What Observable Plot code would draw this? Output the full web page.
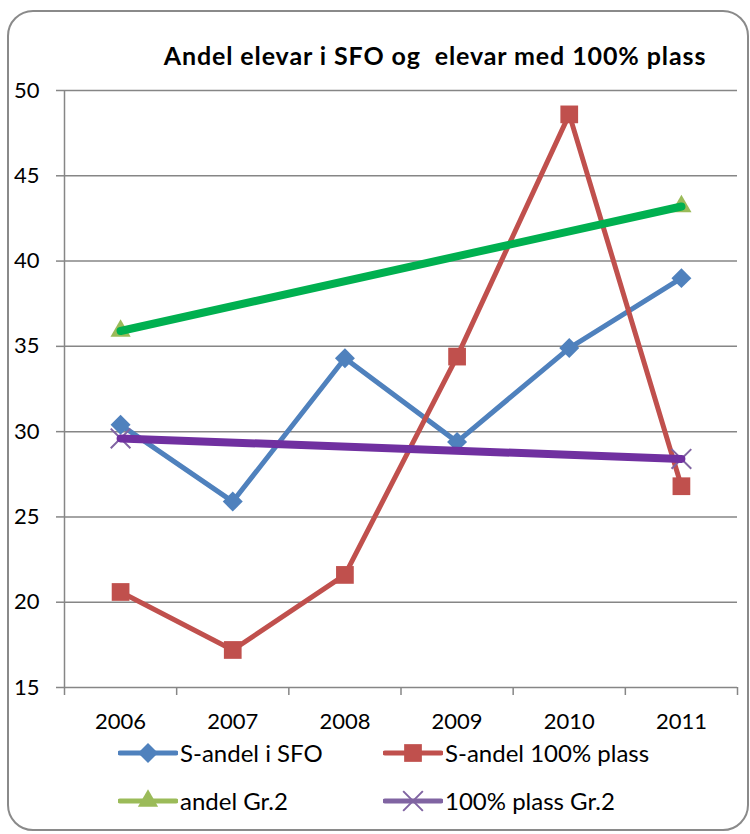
<!DOCTYPE html>
<html>
<head>
<meta charset="utf-8">
<script src="https://cdn.jsdelivr.net/npm/d3@7"></script>
<script src="https://cdn.jsdelivr.net/npm/@observablehq/plot@0.6"></script>
<style>
  html, body { margin: 0; padding: 0; background: #fff; }
  body { font-family: Lato, "Open Sans", sans-serif; }
  #wrap { position: relative; width: 750px; height: 834px; overflow: hidden; }
  #frame { position: absolute; left: 7px; top: 10px; width: 742px; height: 821px;
           border: 2px solid #8a8a8a; border-radius: 26px; box-sizing: border-box; }
  #title { position: absolute; left: 120px; width: 630px; top: 39px; text-align: center;
           font-weight: 700; font-size: 25px; letter-spacing: 0.9px; line-height: 32px; color: #000; white-space: pre; }
  #chart { position: absolute; left: 0; top: 0; }
  .leg { position: absolute; height: 24px; display: flex; align-items: center; }
  .leg span { font-size: 24px; line-height: 24px; color: #000; margin-left: 2px; white-space: pre; }
</style>
</head>
<body>
<div id="wrap">
  <div id="frame"></div>
  <div id="title"></div>
  <div id="chart"></div>
  <div id="legend"></div>
</div>
<script>
// ---- data ----
const titleText = "Andel elevar i SFO og  elevar med 100% plass";
const years = [2006, 2007, 2008, 2009, 2010, 2011];
const sAndelSFO = [30.4, 25.9, 34.3, 29.4, 34.9, 39.0];
const sAndel100 = [20.6, 17.2, 21.6, 34.4, 48.6, 26.8];
const andelGr2 = [35.9, null, null, null, null, 43.2];
const plass100Gr2 = [29.6, null, null, null, null, 28.4];
const yTicks = [15, 20, 25, 30, 35, 40, 45, 50];
const seriesNames = ["S-andel i SFO", "S-andel 100% plass", "andel Gr.2", "100% plass Gr.2"];

// ---- build tables ----
const toRows = (vals) => years.map((y, i) => ({year: y, value: vals[i]})).filter(d => d.value != null);
const sfoRows = toRows(sAndelSFO);
const p100Rows = toRows(sAndel100);
const gr2Rows = toRows(andelGr2);
const pGr2Rows = toRows(plass100Gr2);
const boundaries = years.map(y => y - 0.5).concat([years[years.length - 1] + 0.5]);

const gridColor = "#868686";
const colors = {
  blue: "#4F81BD", red: "#C0504D", greenMarker: "#9BBB59", purpleMarker: "#8064A2",
  greenTrend: "#00B050", purpleTrend: "#7030A0"
};

document.getElementById("title").textContent = titleText;

const chart = Plot.plot({
  width: 750,
  height: 745,
  marginTop: 90,
  marginBottom: 58,
  marginLeft: 64,
  marginRight: 13,
  style: {fontFamily: "Lato, 'Open Sans', sans-serif", fontSize: "22px", color: "#000", background: "transparent"},
  x: {type: "linear", domain: [boundaries[0], boundaries[boundaries.length - 1]]},
  y: {domain: [yTicks[0], yTicks[yTicks.length - 1]]},
  marks: [
    Plot.gridY(yTicks, {stroke: gridColor, strokeOpacity: 1, strokeWidth: 1.5}),
    Plot.ruleX([boundaries[0]], {stroke: gridColor, strokeWidth: 1.5}),
    Plot.axisY(yTicks, {tickSize: 8, tickPadding: 17, stroke: gridColor, strokeWidth: 1.5, fill: "#000", fontSize: 22, label: null}),
    Plot.axisX(boundaries, {tickSize: 8, tickFormat: () => "", stroke: gridColor, strokeWidth: 1.5, label: null}),
    Plot.axisX(years, {tickSize: 0, tickPadding: 26, tickFormat: d => String(d), fill: "#000", fontSize: 22, label: null}),
    Plot.line(sfoRows, {x: "year", y: "value", stroke: colors.blue, strokeWidth: 5}),
    Plot.dot(sfoRows, {x: "year", y: "value", symbol: "diamond2", r: 9, fill: colors.blue}),
    Plot.line(p100Rows, {x: "year", y: "value", stroke: colors.red, strokeWidth: 5}),
    Plot.dot(p100Rows, {x: "year", y: "value", symbol: "square", r: 10, fill: colors.red}),
    Plot.dot(gr2Rows, {x: "year", y: "value", symbol: "triangle", r: 7.5, fill: colors.greenMarker}),
    Plot.dot(pGr2Rows, {x: "year", y: "value", symbol: "times", r: 9, stroke: colors.purpleMarker, strokeWidth: 2}),
    Plot.line(gr2Rows, {x: "year", y: "value", stroke: colors.greenTrend, strokeWidth: 8}),
    Plot.line(pGr2Rows, {x: "year", y: "value", stroke: colors.purpleTrend, strokeWidth: 8})
  ]
});
document.getElementById("chart").appendChild(chart);

// ---- legend ----
const legendItems = [
  {name: seriesNames[0], color: colors.blue, symbol: d3.symbolDiamond2, r: 9, fill: true, left: 118, cy: 753},
  {name: seriesNames[1], color: colors.red, symbol: d3.symbolSquare, r: 10, fill: true, left: 383, cy: 753},
  {name: seriesNames[2], color: colors.greenMarker, symbol: d3.symbolTriangle, r: 7.5, fill: true, left: 118, cy: 801},
  {name: seriesNames[3], color: colors.purpleMarker, symbol: d3.symbolTimes, r: 9, fill: false, left: 383, cy: 801}
];
const legend = document.getElementById("legend");
for (const it of legendItems) {
  const div = document.createElement("div");
  div.className = "leg";
  div.style.left = it.left + "px";
  div.style.top = (it.cy - 12) + "px";
  const svg = d3.create("svg").attr("width", 60).attr("height", 24);
  svg.append("line").attr("x1", 2).attr("x2", 58).attr("y1", 12).attr("y2", 12)
    .attr("stroke", it.color).attr("stroke-width", 5).attr("stroke-linecap", "round");
  const p = svg.append("path").attr("transform", "translate(30,12)")
    .attr("d", d3.symbol(it.symbol, Math.PI * it.r * it.r)());
  if (it.fill) p.attr("fill", it.color); else p.attr("fill", "none").attr("stroke", it.color).attr("stroke-width", 2);
  div.appendChild(svg.node());
  const span = document.createElement("span");
  span.textContent = it.name;
  div.appendChild(span);
  legend.appendChild(div);
}
</script>
</body>
</html>
